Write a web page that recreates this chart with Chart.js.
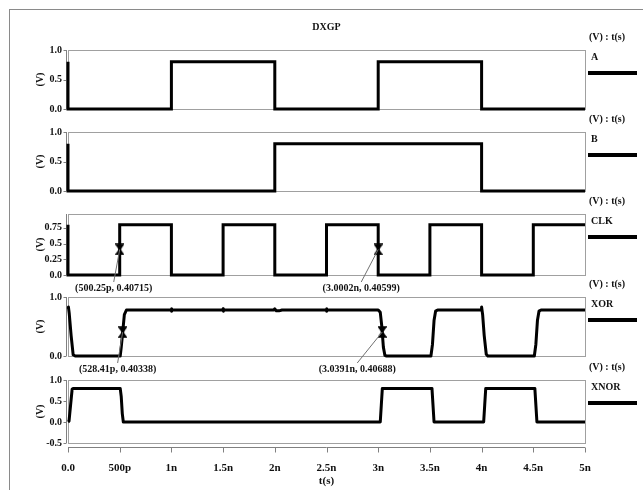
<!DOCTYPE html>
<html>
<head>
<meta charset="utf-8">
<script src="https://cdn.jsdelivr.net/npm/chart.js@4.4.1/dist/chart.umd.min.js"></script>
<style>
  html, body { margin: 0; padding: 0; background: #fff; }
  #page { position: relative; width: 643px; height: 490px; overflow: hidden; background: #fff; }
  #frame { position: absolute; left: 9px; top: 9px; width: 700px; height: 600px; border: 1px solid #8a8a8a; }
  canvas { position: absolute; left: 0; }
</style>
</head>
<body>
<div id="page">
  <div id="frame"></div>
  <canvas id="c-a" width="643" height="115" style="top:12px"></canvas>
  <canvas id="c-b" width="643" height="101" style="top:110px"></canvas>
  <canvas id="c-clk" width="643" height="105" style="top:192px"></canvas>
  <canvas id="c-xor" width="643" height="104" style="top:275px"></canvas>
  <canvas id="c-xnor" width="643" height="132" style="top:358px"></canvas>
</div>
<script>
// time axis in ns
const xTicks = [0, 0.5, 1, 1.5, 2, 2.5, 3, 3.5, 4, 4.5, 5];
const xTickLabels = ['0.0', '500p', '1n', '1.5n', '2n', '2.5n', '3n', '3.5n', '4n', '4.5n', '5n'];

// input A
const aT = [0, 0, 1, 1, 2, 2, 3, 3, 4, 4, 5];
const aV = [0.8, 0, 0, 0.8, 0.8, 0, 0, 0.8, 0.8, 0, 0];

// input B
const bT = [0, 0, 2, 2, 4, 4, 5];
const bV = [0.8, 0, 0, 0.8, 0.8, 0, 0];

// clock
const clkT = [0, 0, 0.5, 0.5, 1, 1, 1.5, 1.5, 2, 2, 2.5, 2.5, 3, 3, 3.5, 3.5, 4, 4, 4.5, 4.5, 5];
const clkV = [0.8, 0, 0, 0.8, 0.8, 0, 0, 0.8, 0.8, 0, 0, 0.8, 0.8, 0, 0, 0.8, 0.8, 0, 0, 0.8, 0.8];
const clkMarkT = [0.50025, 3.0002];
const clkMarkV = [0.40715, 0.40599];
const clkMarkLabels = ['(500.25p, 0.40715)', '(3.0002n, 0.40599)'];

// XOR output
const xorT = [0, 0.004, 0.012, 0.03, 0.05, 0.07, 0.505, 0.515, 0.53, 0.545, 0.565,
  0.998, 1.0, 1.002, 1.004, 1.498, 1.5, 1.502, 1.504, 1.99, 2.0, 2.015, 2.04, 2.07,
  2.498, 2.5, 2.502, 2.504, 3.0, 3.02, 3.035, 3.05, 3.065, 3.08,
  3.51, 3.525, 3.54, 3.555, 3.575, 3.995, 4.0, 4.01, 4.025, 4.045, 4.06,
  4.51, 4.525, 4.54, 4.555, 4.575, 5];
const xorV = [0.8, 0.83, 0.72, 0.35, 0.02, 0, 0, 0.15, 0.42, 0.7, 0.78,
  0.78, 0.8, 0.76, 0.78, 0.78, 0.8, 0.76, 0.78, 0.78, 0.8, 0.765, 0.765, 0.78,
  0.78, 0.8, 0.76, 0.78, 0.78, 0.74, 0.5, 0.15, 0.01, 0,
  0, 0.2, 0.6, 0.76, 0.78, 0.78, 0.83, 0.7, 0.35, 0.03, 0,
  0, 0.2, 0.6, 0.76, 0.78, 0.78];
const xorMarkT = [0.52841, 3.0391];
const xorMarkV = [0.40338, 0.40688];
const xorMarkLabels = ['(528.41p, 0.40338)', '(3.0391n, 0.40688)'];

// XNOR output
const xnorT = [0, 0.01, 0.025, 0.04, 0.05, 0.505, 0.515, 0.525, 0.535,
  3.02, 3.03, 3.04, 3.52, 3.53, 3.54, 4.02, 4.03, 4.04, 4.515, 4.525, 4.535, 5];
const xnorV = [0, 0.02, 0.4, 0.78, 0.8, 0.8, 0.6, 0.2, 0,
  0, 0.4, 0.8, 0.8, 0.4, 0, 0, 0.4, 0.8, 0.8, 0.4, 0, 0];

// y ticks per panel
const abTicks = [0, 0.5, 1];
const abTickLabels = ['0.0', '0.5', '1.0'];
const clkTicks = [0, 0.25, 0.5, 0.75];
const clkTickLabels = ['0.0', '0.25', '0.5', '0.75'];
const xorTicks = [0, 1];
const xorTickLabels = ['0.0', '1.0'];
const xnorTicks = [-0.5, 0, 0.5, 1];
const xnorTickLabels = ['-0.5', '0.0', '0.5', '1.0'];

const unitText = '(V) : t(s)';
const FONT = '"Liberation Serif", "Times New Roman", serif';
const INK = '#111';

Chart.defaults.font.family = FONT;
Chart.defaults.font.weight = 'bold';
Chart.defaults.color = INK;

// hourglass marker
const hourglass = document.createElement('canvas');
hourglass.width = 9; hourglass.height = 12;
(function () {
  const h = hourglass.getContext('2d');
  h.fillStyle = '#000';
  h.strokeStyle = '#000';
  h.lineWidth = 1.5;
  h.beginPath();
  h.moveTo(1, 1); h.lineTo(8, 1); h.lineTo(1, 11); h.lineTo(8, 11); h.closePath();
  h.fill();
  h.stroke();
})();

function pts(ts, vs) { return ts.map((t, i) => ({ x: t, y: vs[i] })); }

// frame, axis lines, unit/name legend, marker labels
const panelPlugin = {
  id: 'panel',
  beforeDatasetsDraw(chart) {
    const { ctx, chartArea: a, scales } = chart;
    ctx.save();
    ctx.strokeStyle = '#a0a0a0';
    ctx.lineWidth = 1;
    ctx.strokeRect(Math.round(a.left) + 0.5, Math.round(a.top) + 0.5,
      Math.round(a.right - a.left), Math.round(a.bottom - a.top));
    const y = scales.y;
    ctx.strokeStyle = '#808080';
    ctx.beginPath();
    const lx = Math.round(a.left) - 1.5;
    ctx.moveTo(lx, a.top); ctx.lineTo(lx, a.bottom);
    y.ticks.forEach(t => {
      const py = Math.round(y.getPixelForValue(t.value)) + 0.5;
      ctx.moveTo(lx - 3, py); ctx.lineTo(lx, py);
    });
    ctx.stroke();
    const x = scales.x;
    if (x.options.display) {
      const by = Math.round(a.bottom) + 4.5;
      ctx.beginPath();
      ctx.moveTo(a.left, by); ctx.lineTo(a.right, by);
      x.ticks.forEach(t => {
        const px = Math.round(x.getPixelForValue(t.value)) + 0.5;
        ctx.moveTo(px, by); ctx.lineTo(px, by + 5);
      });
      ctx.stroke();
    }
    ctx.restore();
  },
  afterDraw(chart) {
    const { ctx, chartArea: a, scales } = chart;
    const opts = chart.options.plugins.panel;
    ctx.save();
    ctx.fillStyle = INK;
    ctx.font = 'bold 10px ' + FONT;
    ctx.textBaseline = 'middle';
    ctx.textAlign = 'center';
    ctx.fillText(unitText, a.right + 22, a.top - 13);
    ctx.textAlign = 'left';
    ctx.fillText(chart.data.datasets[0].label, a.right + 6, a.top + 7);
    ctx.strokeStyle = '#000';
    ctx.lineWidth = 4;
    ctx.beginPath();
    ctx.moveTo(a.right + 3, a.top + 23); ctx.lineTo(a.right + 52, a.top + 23);
    ctx.stroke();
    if (opts.marks) {
      const m = opts.marks;
      m.t.forEach((t, i) => {
        const px = scales.x.getPixelForValue(t);
        const py = scales.y.getPixelForValue(m.v[i]);
        const lx = px + m.dx[i];
        const ly = a.bottom + 13;
        ctx.strokeStyle = '#707070';
        ctx.lineWidth = 1;
        ctx.beginPath();
        ctx.moveTo(px, py); ctx.lineTo(lx, ly - 6);
        ctx.stroke();
        ctx.textAlign = 'center';
        ctx.fillText(m.labels[i], lx, ly);
      });
    }
    ctx.restore();
  }
};

function makePanel(id, cfg) {
  const datasets = [{
    label: cfg.name,
    data: pts(cfg.t, cfg.v),
    borderColor: '#000',
    borderWidth: 3,
    borderJoinStyle: cfg.join || 'miter',
    pointRadius: 0,
    tension: 0,
    clip: false
  }];
  if (cfg.marks) {
    datasets.push({
      label: cfg.name + ' marks',
      data: pts(cfg.marks.t, cfg.marks.v),
      showLine: false,
      pointStyle: hourglass,
      pointRadius: 5,
      clip: false
    });
  }
  return new Chart(document.getElementById(id), {
    type: 'line',
    data: { datasets },
    plugins: [panelPlugin],
    options: {
      responsive: false,
      animation: false,
      events: [],
      layout: { padding: { left: 0, right: 58, top: cfg.padTop, bottom: cfg.padBottom } },
      plugins: {
        legend: { display: false },
        tooltip: { enabled: false },
        title: cfg.title ? {
          display: true,
          text: cfg.title,
          fullSize: false,
          font: { size: 10, weight: 'bold' },
          color: INK,
          padding: { top: 6, bottom: 17 }
        } : { display: false },
        panel: { marks: cfg.marks || null }
      },
      scales: {
        x: {
          type: 'linear',
          min: 0,
          max: 5,
          display: !!cfg.showX,
          grid: { display: false, drawTicks: false },
          border: { display: false },
          afterBuildTicks: s => { s.ticks = xTicks.map(v => ({ value: v })); },
          afterFit: s => { if (cfg.showX) s.height = 47; },
          ticks: {
            autoSkip: false,
            maxRotation: 0,
            padding: 19,
            font: { size: 11, weight: 'bold' },
            color: INK,
            callback: (v, i) => xTickLabels[i]
          },
          title: {
            display: !!cfg.showX,
            text: 't(s)',
            font: { size: 11, weight: 'bold' },
            color: INK,
            padding: { top: 0, bottom: 2 }
          }
        },
        y: {
          type: 'linear',
          min: cfg.min,
          max: cfg.max,
          grid: { display: false, drawTicks: false },
          border: { display: false },
          afterBuildTicks: s => { s.ticks = cfg.ticks.map(v => ({ value: v })); },
          afterFit: s => { s.width = 68; },
          ticks: {
            padding: 6,
            font: { size: 10, weight: 'bold' },
            color: INK,
            callback: (v, i) => cfg.tickLabels[i]
          },
          title: {
            display: true,
            text: '(V)',
            font: { size: 10, weight: 'bold' },
            color: INK,
            padding: { top: 34, bottom: 0 }
          }
        }
      }
    }
  });
}

makePanel('c-a', { name: 'A', t: aT, v: aV, min: 0, max: 1, ticks: abTicks, tickLabels: abTickLabels,
  padTop: 3, padBottom: 18, title: 'DXGP' });
makePanel('c-b', { name: 'B', t: bT, v: bV, min: 0, max: 1, ticks: abTicks, tickLabels: abTickLabels,
  padTop: 22, padBottom: 20 });
makePanel('c-clk', { name: 'CLK', t: clkT, v: clkV, min: 0, max: 0.97, ticks: clkTicks, tickLabels: clkTickLabels,
  padTop: 22, padBottom: 22,
  marks: { t: clkMarkT, v: clkMarkV, labels: clkMarkLabels, dx: [-6, -17] } });
makePanel('c-xor', { name: 'XOR', t: xorT, v: xorV, min: 0, max: 1, ticks: xorTicks, tickLabels: xorTickLabels,
  padTop: 22, padBottom: 23, join: 'round',
  marks: { t: xorMarkT, v: xorMarkV, labels: xorMarkLabels, dx: [-5, -25] } });
makePanel('c-xnor', { name: 'XNOR', t: xnorT, v: xnorV, min: -0.5, max: 1, ticks: xnorTicks, tickLabels: xnorTickLabels,
  padTop: 22, padBottom: 0, showX: true, join: 'round' });
</script>
</body>
</html>
